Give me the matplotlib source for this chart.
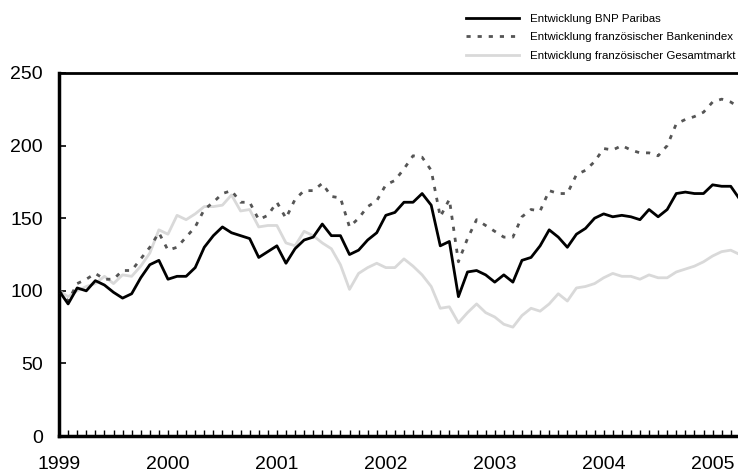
import matplotlib
matplotlib.use("Agg")

import matplotlib.pyplot as plt
import numpy as np

plt.rcParams['font.family'] = ['Liberation Sans', 'DejaVu Sans']

# monthly values, Jan 1999 .. Apr 2005 (index 1999 = 100)
bnp = [100, 91, 102, 100, 107, 104, 99, 95, 98, 109, 118, 121,
       108, 110, 110, 116, 130, 138, 144, 140, 138, 136, 123, 127,
       131, 119, 129, 135, 137, 146, 138, 138, 125, 128, 135, 140,
       152, 154, 161, 161, 167, 159, 131, 134, 96, 113, 114, 111,
       106, 111, 106, 121, 123, 131, 142, 137, 130, 139, 143, 150,
       153, 151, 152, 151, 149, 156, 151, 156, 167, 168, 167, 167,
       173, 172, 172, 163]
banken = [100, 93, 105, 108, 112, 108, 108, 114, 114, 122, 130, 140,
          128, 130, 137, 144, 156, 161, 167, 169, 161, 161, 149, 152,
          161, 150, 163, 169, 169, 174, 165, 164, 144, 150, 158, 162,
          173, 176, 184, 193, 192, 183, 151, 163, 120, 136, 149, 145,
          141, 137, 137, 151, 156, 155, 169, 167, 167, 180, 183, 189,
          198, 197, 200, 197, 195, 195, 193, 200, 215, 218, 220, 223,
          230, 232, 230, 226]
gesamt = [100, 96, 100, 103, 105, 110, 105, 111, 110, 117, 126, 142,
          139, 152, 149, 153, 158, 158, 159, 166, 155, 156, 144, 145,
          145, 133, 131, 141, 138, 133, 129, 118, 101, 112, 116, 119,
          116, 116, 122, 117, 111, 103, 88, 89, 78, 85, 91, 85,
          82, 77, 75, 83, 88, 86, 91, 98, 93, 102, 103, 105,
          109, 112, 110, 110, 108, 111, 109, 109, 113, 115, 117, 120,
          124, 127, 128, 125]
years = [1999, 2000, 2001, 2002, 2003, 2004, 2005]
labels = ["Entwicklung BNP Paribas",
          "Entwicklung französischer Bankenindex",
          "Entwicklung französischer Gesamtmarkt"]

t = 1999 + np.arange(len(bnp)) / 12.0

fig = plt.figure(figsize=(7.38, 4.74), dpi=100)
ax = fig.add_axes([0.08, 0.08, 0.92, 0.766])

ax.plot(t, gesamt, color="#d9d9d9", lw=2, label=labels[2], zorder=2)
ax.plot(t, banken, color="#555555", lw=2, linestyle=(0, (1.5, 2.5)), label=labels[1], zorder=3)
ax.plot(t, bnp, color="black", lw=2, label=labels[0], zorder=4)

ax.set_xlim(1999, 1999 + 74.8 / 12)
ax.set_ylim(0, 250)
ax.set_yticks([0, 50, 100, 150, 200, 250])
ax.set_xticks(years)
ax.set_xticks(1999 + np.arange(1, 75) / 12.0, minor=True)
ax.set_xticklabels([str(y) for y in years])

ax.tick_params(axis="y", direction="in", length=5, width=1.2, labelsize=14, pad=11.5)
ax.tick_params(axis="x", which="both", direction="in", length=4, width=1, labelsize=14, pad=14.5)

for s in ["left", "bottom"]:
    ax.spines[s].set_linewidth(2.5)
ax.spines["top"].set_linewidth(2)
ax.spines["right"].set_visible(False)

h, l = ax.get_legend_handles_labels()
order = [2, 1, 0]
ax.legend([h[i] for i in order], [l[i] for i in order],
          loc="lower right", bbox_to_anchor=(1.0, 1.027), frameon=False,
          fontsize=8.25, handlelength=4.6, handletextpad=1.0, labelspacing=0.75,
          borderaxespad=0, borderpad=0.2)

fig.savefig("out.png", dpi=100)
